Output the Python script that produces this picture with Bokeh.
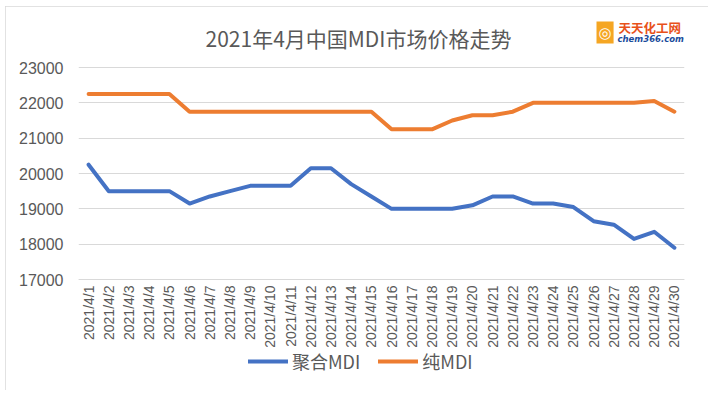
from bokeh.plotting import figure
from bokeh.models import Range1d, FactorRange, Legend, LegendItem, Label, ColumnDataSource
from bokeh.embed import file_html
from bokeh.resources import INLINE
from math import pi

dates = ["2021/4/1", "2021/4/2", "2021/4/3", "2021/4/4", "2021/4/5", "2021/4/6",
         "2021/4/7", "2021/4/8", "2021/4/9", "2021/4/10", "2021/4/11", "2021/4/12",
         "2021/4/13", "2021/4/14", "2021/4/15", "2021/4/16", "2021/4/17", "2021/4/18",
         "2021/4/19", "2021/4/20", "2021/4/21", "2021/4/22", "2021/4/23", "2021/4/24",
         "2021/4/25", "2021/4/26", "2021/4/27", "2021/4/28", "2021/4/29", "2021/4/30"]

polymeric_mdi = [20250, 19500, 19500, 19500, 19500, 19150, 19350, 19500, 19650, 19650,
                 19650, 20150, 20150, 19700, 19350, 19000, 19000, 19000, 19000, 19100,
                 19350, 19350, 19150, 19150, 19050, 18650, 18550, 18150, 18350, 17900]

pure_mdi = [22250, 22250, 22250, 22250, 22250, 21750, 21750, 21750, 21750, 21750,
            21750, 21750, 21750, 21750, 21750, 21250, 21250, 21250, 21500, 21650,
            21650, 21750, 22000, 22000, 22000, 22000, 22000, 22000, 22050, 21750]

series_names = ["聚合MDI", "纯MDI"]
y_ticks = [17000, 18000, 19000, 20000, 21000, 22000, 23000]
title_text = "2021年4月中国MDI市场价格走势"
logo_cn = "天天化工网"
logo_en = "chem366.com"

BLUE = "#4472C4"
ORANGE = "#ED7D31"
GRAY_TEXT = "#595959"
GRID = "#D9D9D9"

# layout (page pixels)
OX, OY = 5, 6                    # figure offset on page (margin)
W, H = 703, 384
FRAME_L, FRAME_R = 78, 684
GRID_TOP, AXIS_Y = 67, 279       # 23000 gridline and x axis line
FRAME_T, FRAME_B = 12, 388       # frame extended to hold title/logo/legend
px_per_unit = (AXIS_Y - GRID_TOP) / (y_ticks[-1] - y_ticks[0])
y_top = y_ticks[-1] + (GRID_TOP - FRAME_T) / px_per_unit
y_bot = y_ticks[0] - (FRAME_B - AXIS_Y) / px_per_unit

p = figure(width=W, height=H, output_backend="svg", toolbar_location=None,
           x_range=FactorRange(*dates), y_range=Range1d(y_bot, y_top),
           min_border_left=FRAME_L - OX, min_border_right=OX + W - FRAME_R,
           min_border_top=FRAME_T - OY, min_border_bottom=OY + H - FRAME_B)
p.margin = (OY, 0, 0, OX)
p.styles = {"outline": "1px solid #D9D9D9", "outline-offset": "-1px"}
p.outline_line_color = None
p.background_fill_color = "white"
p.border_fill_color = "white"

src = ColumnDataSource(dict(d=dates, a=polymeric_mdi, b=pure_mdi))
r1 = p.line("d", "a", source=src, line_color=BLUE, line_width=4,
            line_join="round", line_cap="round")
r2 = p.line("d", "b", source=src, line_color=ORANGE, line_width=4,
            line_join="round", line_cap="round")

p.xgrid.grid_line_color = None
p.ygrid.grid_line_color = GRID
p.ygrid.grid_line_width = 1
p.yaxis.ticker = y_ticks
p.yaxis.axis_line_color = None
p.yaxis.major_tick_line_color = None
p.yaxis.minor_tick_line_color = None
p.yaxis.major_tick_out = 0
p.yaxis.major_tick_in = 0
p.yaxis.major_label_standoff = 15
p.yaxis.major_label_text_font = "Liberation Sans"
p.yaxis.major_label_text_font_size = "16px"
p.yaxis.major_label_text_color = GRAY_TEXT

p.xaxis.fixed_location = y_ticks[0]
p.xaxis.axis_line_color = GRID
p.xaxis.axis_line_width = 1
p.xaxis.major_tick_line_color = None
p.xaxis.major_tick_out = 0
p.xaxis.major_tick_in = 0
p.xaxis.major_label_orientation = pi / 2
p.xaxis.major_label_standoff = 6
p.xaxis.major_label_text_font = "Liberation Sans"
p.xaxis.major_label_text_font_size = "14px"
p.xaxis.major_label_text_color = GRAY_TEXT


def fx(page_x):
    return page_x - FRAME_L


def fy(page_y):
    return FRAME_B - page_y


legend = Legend(items=[LegendItem(label=series_names[0], renderers=[r1]),
                       LegendItem(label=series_names[1], renderers=[r2])],
                location=(fx(248), fy(374)), orientation="horizontal",
                glyph_width=40, glyph_height=20, label_standoff=4, spacing=18,
                padding=0, margin=0, border_line_color=None,
                background_fill_alpha=0,
                label_text_font="Noto Sans CJK SC", label_text_font_size="18px",
                label_text_color=GRAY_TEXT)
p.add_layout(legend, "center")

# Title
p.add_layout(Label(x=fx(358), y=fy(37), x_units="screen", y_units="screen",
                   text=title_text, text_align="center", text_baseline="middle",
                   text_font="Noto Sans CJK SC", text_font_size="21px",
                   text_color=GRAY_TEXT))

# Logo (kept inside the frame, which clips annotations)
p.add_layout(Label(x=fx(596), y=fy(32), x_units="screen", y_units="screen",
                   text="◎", text_align="left", text_baseline="middle",
                   text_font="DejaVu Sans", text_font_size="15px",
                   text_color="white", background_fill_color="#F5A623",
                   padding=2))
p.add_layout(Label(x=fx(618), y=fy(27), x_units="screen", y_units="screen",
                   text=logo_cn, text_align="left", text_baseline="middle",
                   text_font="Noto Sans CJK SC", text_font_size="12.5px",
                   text_font_style="bold", text_color="#E8511A"))
p.add_layout(Label(x=fx(617), y=fy(38), x_units="screen", y_units="screen",
                   text=logo_en, text_align="left", text_baseline="middle",
                   text_font="DejaVu Sans", text_font_size="8.5px",
                   text_font_style="bold italic", text_color="#1A4C9C"))

open("out.html", "w").write(file_html(p, INLINE))
